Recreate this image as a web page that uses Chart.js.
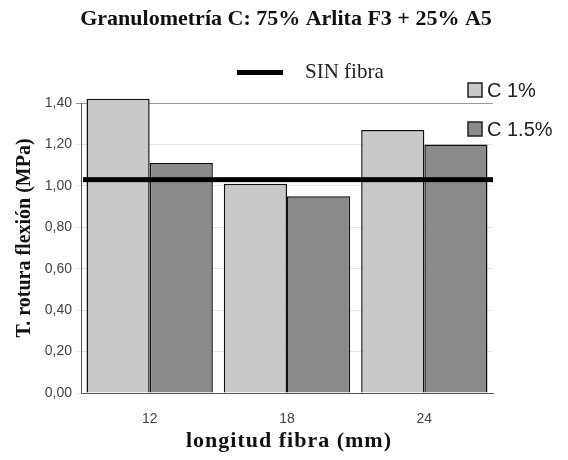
<!DOCTYPE html>
<html><head><meta charset="utf-8">
<script src="https://cdn.jsdelivr.net/npm/chart.js@4/dist/chart.umd.min.js"></script>
<style>html,body{margin:0;padding:0;background:#fff}#wrap{width:568px;height:460px}</style>
</head><body><div id="wrap"><canvas id="c" width="568" height="460"></canvas></div>
<script>
const categories = ['12', '18', '24'];
const seriesNames = ['C 1%', 'C 1.5%'];
const c1 = [1.42, 1.01, 1.27];
const c15 = [1.11, 0.95, 1.20];
const sinFibra = 1.03;
const sinFibraLabel = 'SIN fibra';
const yTicks = [0, 0.2, 0.4, 0.6, 0.8, 1.0, 1.2, 1.4];
const titleText = 'Granulometría C: 75% Arlita F3 + 25% A5';
const yTitle = 'T. rotura flexión (MPa)';
const xTitle = 'longitud fibra (mm)';

const colors = ['#c9c9c9', '#8b8b8b'];

const overlay = {
  id: 'overlay',
  afterDatasetsDraw(chart) {
    const ctx = chart.ctx, a = chart.chartArea, y = chart.scales.y;
    const py = y.getPixelForValue(sinFibra);
    ctx.save();
    ctx.fillStyle = '#000';
    ctx.fillRect(a.left + 2, py - 2.5, a.right - a.left - 2, 5);
    ctx.restore();
  },
  afterDraw(chart) {
    const ctx = chart.ctx;
    ctx.save();
    ctx.fillStyle = '#111';
    ctx.textBaseline = 'middle';
    // title
    ctx.font = 'bold 22px "Liberation Serif", "Times New Roman", serif';
    ctx.textAlign = 'center';
    ctx.fillText(titleText, 286, 19);
    // x title
    ctx.font = 'bold 22px "Liberation Serif", serif';
    ctx.letterSpacing = '1px';
    ctx.fillText(xTitle, 289, 441);
    ctx.letterSpacing = '0px';
    // y title
    ctx.save();
    ctx.translate(25, 238);
    ctx.rotate(-Math.PI / 2);
    ctx.font = 'bold 20px "Liberation Serif", serif';
    ctx.fillText(yTitle, 0, 0);
    ctx.restore();
    // SIN fibra legend
    ctx.fillStyle = '#000';
    ctx.fillRect(237, 70, 46, 5);
    ctx.font = '21px "Liberation Serif", serif';
    ctx.textAlign = 'left';
    ctx.fillStyle = '#222';
    ctx.fillText(sinFibraLabel, 305, 72);
    // series legend
    ctx.font = '20px "Liberation Sans", Arial, sans-serif';
    const ly = [90, 129];
    seriesNames.forEach((n, i) => {
      ctx.fillStyle = colors[i];
      ctx.fillRect(468, ly[i] - 7, 14, 14);
      ctx.strokeStyle = '#222';
      ctx.lineWidth = 1.5;
      ctx.strokeRect(468, ly[i] - 7, 14, 14);
      ctx.fillStyle = '#222';
      ctx.fillText(n, 487, ly[i] + 1);
    });
    ctx.restore();
  }
};

new Chart(document.getElementById('c'), {
  type: 'bar',
  data: {
    labels: categories,
    datasets: [
      { label: seriesNames[0], data: c1, backgroundColor: colors[0], borderColor: '#111', borderWidth: 1.5, clip: false },
      { label: seriesNames[1], data: c15, backgroundColor: colors[1], borderColor: '#111', borderWidth: 1.5, clip: false }
    ]
  },
  options: {
    responsive: false,
    animation: false,
    devicePixelRatio: 1,
    layout: { padding: { top: 103, right: 75, left: 0, bottom: 0 } },
    plugins: { legend: { display: false }, title: { display: false }, tooltip: { enabled: false } },
    datasets: { bar: { categoryPercentage: 0.92, barPercentage: 1.0 } },
    scales: {
      x: {
        grid: { display: false },
        border: { display: true, color: '#555', width: 1 },
        ticks: { color: '#444', font: { family: '"Liberation Sans", Arial, sans-serif', size: 14 }, padding: 10 },
        afterFit(s) { s.height = 67; }
      },
      y: {
        min: 0, max: 1.4,
        afterBuildTicks(s) { s.ticks = yTicks.map(v => ({ value: v })); },
        grid: {
          color: (c) => c.tick && c.tick.value === 1.4 ? '#999' : '#e6e6e6',
          tickLength: 5, drawOnChartArea: true
        },
        border: { display: true, color: '#555', width: 1 },
        ticks: {
          color: '#444', padding: 4,
          font: { family: '"Liberation Sans", Arial, sans-serif', size: 14 },
          callback: (v) => Number(v).toFixed(2).replace('.', ',')
        },
        afterFit(s) { s.width = 81; }
      }
    }
  },
  plugins: [overlay]
});
</script>
</body></html>
